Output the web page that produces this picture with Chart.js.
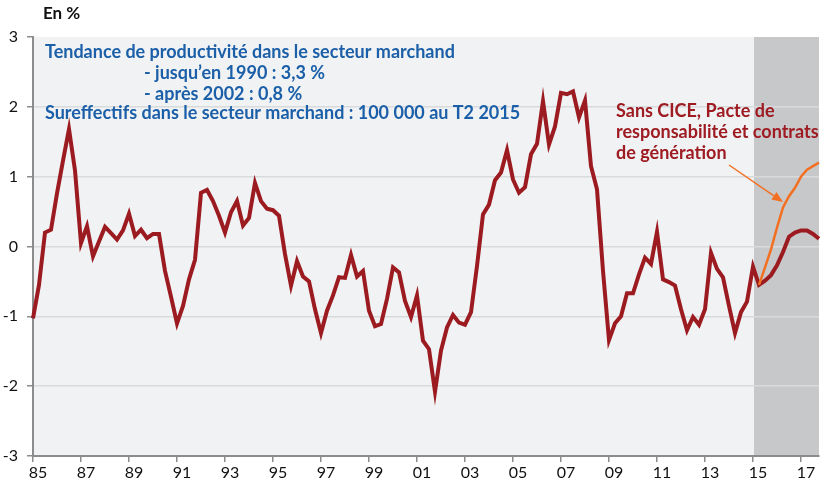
<!DOCTYPE html>
<html>
<head>
<meta charset="utf-8">
<script src="https://cdn.jsdelivr.net/npm/chart.js@4/dist/chart.umd.min.js"></script>
<style>
html,body{margin:0;padding:0;background:#fff;}
#wrap{width:820px;height:485px;position:relative;}
</style>
</head>
<body>
<div id="wrap"><canvas id="c" width="820" height="485"></canvas></div>
<script>
// Quarterly categories 1985T1 .. 2017T4
const firstYear = 1985;
const lastYear = 2017;
const categories = [];
for (let y = firstYear; y <= lastYear; y++) {
  for (let q = 1; q <= 4; q++) categories.push(y + 'T' + q);
}
// Tick labels shown every two years
const tickLabels = ['85','87','89','91','93','95','97','99','01','03','05','07','09','11','13','15','17'];

// Sureffectifs (écart à la tendance), en %
const sureffectifs = [
  -1.03,-0.55, 0.20, 0.24, 0.76, 1.23, 1.68, 1.09,
   0.05, 0.29,-0.14, 0.07, 0.28, 0.19, 0.10, 0.23,
   0.47, 0.15, 0.24, 0.12, 0.18, 0.18,-0.35,-0.72,
  -1.10,-0.85,-0.47,-0.19, 0.77, 0.81, 0.65, 0.44,
   0.20, 0.49, 0.65, 0.30, 0.41, 0.91, 0.65, 0.54,
   0.52, 0.44,-0.11,-0.56,-0.21,-0.43,-0.50,-0.90,
  -1.24,-0.92,-0.70,-0.44,-0.45,-0.12,-0.43,-0.35,
  -0.92,-1.14,-1.11,-0.75,-0.30,-0.37,-0.78,-1.01,
  -0.70,-1.35,-1.47,-2.08,-1.49,-1.16,-0.98,-1.09,
  -1.12,-0.94,-0.28, 0.46, 0.60, 0.95, 1.06, 1.38,
   0.96, 0.77, 0.85, 1.32, 1.47, 2.08, 1.46, 1.72,
   2.20, 2.18, 2.22, 1.85, 2.09, 1.15, 0.82,-0.35,
  -1.34,-1.10,-1.00,-0.67,-0.67,-0.40,-0.16,-0.25,
   0.21,-0.47,-0.51,-0.56,-0.90,-1.20,-1.01,-1.12,
  -0.90,-0.09,-0.32,-0.44,-0.85,-1.24,-0.94,-0.79,
  -0.29,-0.55,-0.49,-0.41,-0.27,-0.08, 0.14, 0.20,
   0.23, 0.23, 0.18, 0.11
];
// Scénario sans CICE, Pacte de responsabilité et contrats de génération (à partir de 2015T2)
const sansCICEStart = '2015T2';
const sansCICE = [-0.55,-0.30,-0.04, 0.27, 0.56, 0.72, 0.84, 1.00, 1.10, 1.15, 1.20];

const startIdx = categories.indexOf(sansCICEStart);
const sansCICEFull = categories.map((_, i) => (i >= startIdx && i - startIdx < sansCICE.length) ? sansCICE[i - startIdx] : null);
const shadeFrom = '2015T1';

const FONT = 'Lato, "Open Sans", sans-serif';

const decor = {
  id: 'decor',
  beforeDraw(chart) {
    const {ctx, chartArea: a, scales: {x}} = chart;
    ctx.save();
    ctx.fillStyle = '#f1f2f4';
    ctx.fillRect(a.left, a.top, a.right - a.left, a.bottom - a.top);
    const sx = x.getPixelForValue(categories.indexOf(shadeFrom)) + 1;
    ctx.fillStyle = '#c7c8ca';
    ctx.fillRect(sx, a.top, a.right - sx, a.bottom - a.top);
    ctx.restore();
  },
  afterDraw(chart) {
    const ctx = chart.ctx;
    ctx.save();
    ctx.textBaseline = 'alphabetic';
    ctx.textAlign = 'left';
    // Unit
    ctx.fillStyle = '#111';
    ctx.font = 'bold 17px ' + FONT;
    ctx.fillText('En %', 43, 19);
    // Blue box text
    ctx.fillStyle = '#1a5fa8';
    ctx.font = 'bold 18px ' + FONT;
    ctx.fillText('Tendance de productivité dans le secteur marchand', 45, 58);
    ctx.fillText('- jusqu\u2019en 1990 : 3,3 %', 144, 79);
    ctx.fillText('- après 2002 : 0,8 %', 144, 100);
    ctx.fillText('Sureffectifs dans le secteur marchand : 100 000 au T2 2015', 45, 119);
    // Red annotation
    ctx.fillStyle = '#9e1b22';
    ctx.fillText('Sans CICE, Pacte de', 616, 117);
    ctx.fillText('responsabilité et contrats', 616, 138);
    ctx.fillText('de génération', 616, 159);
    // Arrow
    const x1 = 729, y1 = 165, x2 = 783, y2 = 202;
    ctx.strokeStyle = '#f36f21';
    ctx.fillStyle = '#f36f21';
    ctx.lineWidth = 1.5;
    const ang = Math.atan2(y2 - y1, x2 - x1);
    const hl = 11, hw = 4.5;
    const bx = x2 - hl * Math.cos(ang), by = y2 - hl * Math.sin(ang);
    ctx.beginPath();
    ctx.moveTo(x1, y1);
    ctx.lineTo(bx, by);
    ctx.stroke();
    ctx.beginPath();
    ctx.moveTo(x2, y2);
    ctx.lineTo(bx + hw * Math.sin(ang), by - hw * Math.cos(ang));
    ctx.lineTo(bx - hw * Math.sin(ang), by + hw * Math.cos(ang));
    ctx.closePath();
    ctx.fill();
    ctx.restore();
  }
};

Chart.defaults.font.family = FONT;
Chart.defaults.color = '#111';

new Chart(document.getElementById('c'), {
  type: 'line',
  data: {
    labels: categories,
    datasets: [
      {
        label: 'Sans CICE',
        data: sansCICEFull,
        borderColor: '#f36f21',
        borderWidth: 2.5,
        pointRadius: 0,
        tension: 0,
        spanGaps: false
      },
      {
        label: 'Sureffectifs',
        data: sureffectifs,
        borderColor: '#9b1b20',
        borderWidth: 4,
        pointRadius: 0,
        tension: 0
      }
    ]
  },
  options: {
    responsive: false,
    animation: false,
    events: [],
    layout: { padding: { top: 37, left: 0, right: 0, bottom: 0 } },
    plugins: { legend: { display: false }, tooltip: { enabled: false } },
    scales: {
      x: {
        type: 'category',
        offset: false,
        afterFit(s) { s.height = 29; },
        border: { display: true, color: '#8c8c8c', width: 2 },
        grid: {
          drawOnChartArea: false,
          drawTicks: true,
          tickLength: 6,
          lineWidth: 1.5,
          color: (c) => (c.index % 8 === 0 ? '#8c8c8c' : 'rgba(0,0,0,0)')
        },
        ticks: {
          autoSkip: false,
          maxRotation: 0,
          minRotation: 0,
          padding: 1,
          labelOffset: 5,
          font: { size: 16 },
          color: '#111',
          callback: (v, i) => (i % 8 === 0 ? tickLabels[i / 8] : '')
        }
      },
      y: {
        min: -3,
        max: 3,
        afterFit(s) { s.width = 33; },
        border: { display: true, color: '#8c8c8c', width: 2 },
        grid: {
          drawTicks: true,
          tickLength: 6,
          lineWidth: 1.5,
          color: (c) => (c.tick && (c.tick.value === 3 || c.tick.value === -3) ? 'rgba(0,0,0,0)' : '#d9dadc'),
          tickColor: '#8c8c8c'
        },
        ticks: {
          stepSize: 1,
          padding: 9,
          font: { size: 16 },
          color: '#111',
          callback: (v) => String(v)
        }
      }
    }
  },
  plugins: [decor]
});
</script>
</body>
</html>
